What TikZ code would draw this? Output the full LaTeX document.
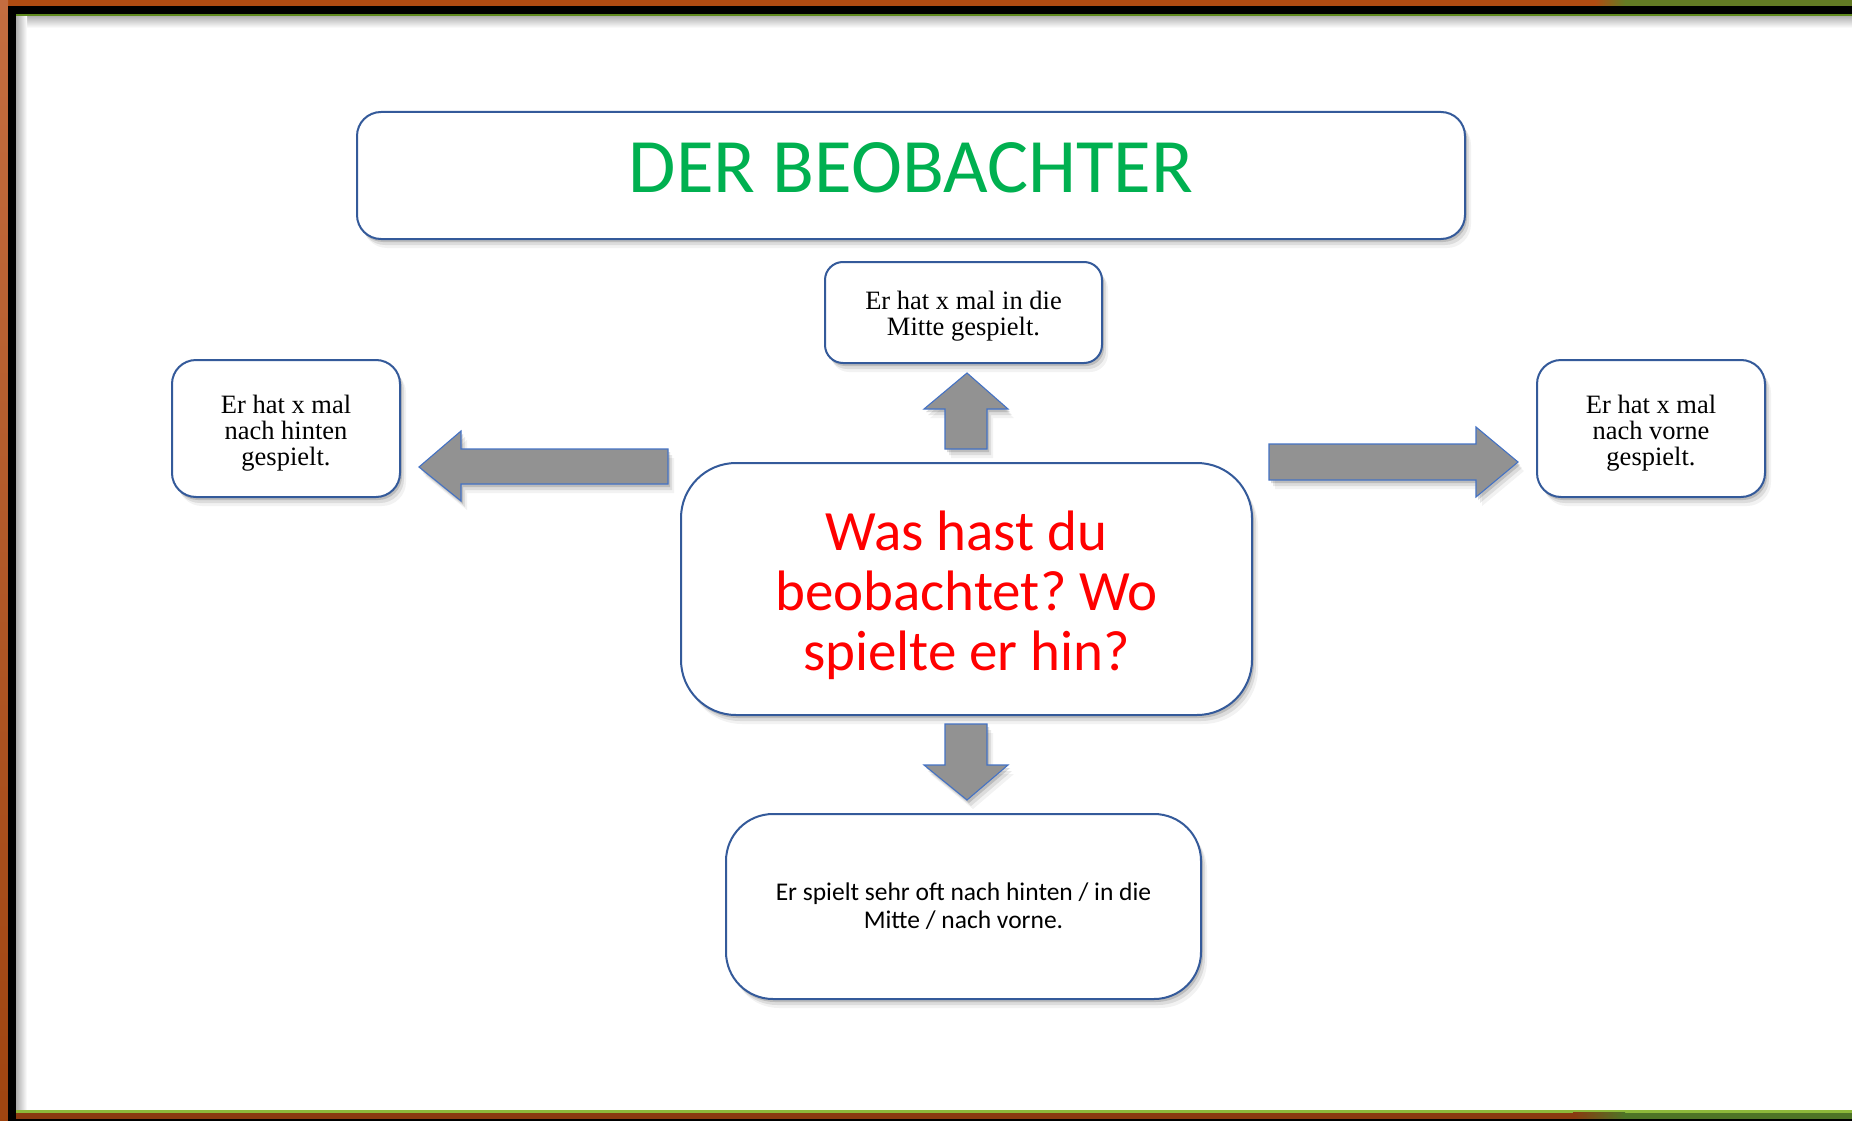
\documentclass[tikz,border=0pt]{standalone}
\usepackage{fontspec}
\setmainfont{Liberation Serif}
\newfontfamily\calibrifam{Carlito}
\usetikzlibrary{shadows}
\frenchspacing
\definecolor{boxblue}{HTML}{345A9A}
\definecolor{arrblue}{HTML}{4472C4}
\definecolor{arrgray}{HTML}{929292}
\definecolor{titlegreen}{HTML}{00B050}
\definecolor{framebrown}{HTML}{B04C12}
\definecolor{framelight}{HTML}{C46D40}
\definecolor{framegreen}{HTML}{637B24}
\definecolor{linegreen}{HTML}{5F8A1E}
\definecolor{lightgreen}{HTML}{8DB83A}
\definecolor{bottombrown}{HTML}{8A3A10}
\definecolor{bottomgreen}{HTML}{4E7426}
\newcommand\boxtextfont{\fontsize{26.5}{26}\selectfont}
\tikzset{
  softshadow/.style={
    drop shadow={shadow xshift=2pt,shadow yshift=-3pt,opacity=.14,fill=black},
    drop shadow={shadow xshift=4pt,shadow yshift=-6pt,opacity=.09,fill=black},
    drop shadow={shadow xshift=6pt,shadow yshift=-9pt,opacity=.05,fill=black}},
  rbox/.style={draw=boxblue, line width=2pt, fill=white, rounded corners=#1,
    softshadow, inner sep=0pt, align=center},
  arrowshape/.style={draw=arrblue, line width=1.1pt, fill=arrgray, softshadow, line join=miter},
}
\begin{document}
\begin{tikzpicture}[x=1pt,y=-1pt]
\useasboundingbox (0,0) rectangle (1852,1121);
% frame
\fill[framebrown] (0,0) rectangle (1852,1121);
\shade[top color=framelight, bottom color=framebrown!90!black] (0,0) rectangle (8,1121);
\shade[left color=framebrown, right color=framegreen] (1595,0) rectangle (1625,6);
\fill[framegreen] (1625,0) rectangle (1852,6);
\fill[black] (8,6) rectangle (1852,1121);
\fill[linegreen] (16,14.5) rectangle (1852,17);
\fill[white] (16,17) rectangle (1852,1110);
\shade[top color=black!28, bottom color=white] (16,17) rectangle (1852,28);
\shade[left color=black!32, right color=white] (16,17) rectangle (27,1110);
\fill[lightgreen] (16,1110) rectangle (1852,1112.5);
\fill[bottombrown] (16,1112.5) rectangle (1852,1118.5);
\shade[left color=bottombrown, right color=bottomgreen] (1573,1112.5) rectangle (1625,1118.5);
\fill[bottomgreen] (1625,1112.5) rectangle (1852,1118.5);

% boxes
\node[rbox=24pt, minimum width=1108pt, minimum height=127pt] (title) at (911,175.5) {};
\node[font=\calibrifam\fontsize{77}{80}\selectfont, text=titlegreen, inner sep=0pt] (titletext) at (911,168) {DER BEOBACHTER};

\node[rbox=18pt, minimum width=277pt, minimum height=101pt, font=\boxtextfont] (mitte) at (963.5,312.5) {\rule{0pt}{25.5pt}Er hat x mal in die\\Mitte gespielt.};
\node[rbox=24pt, minimum width=228pt, minimum height=137pt, font=\boxtextfont] (hinten) at (286,428.5) {\rule{0pt}{27.5pt}Er hat x mal\\nach hinten\\gespielt.};
\node[rbox=24pt, minimum width=228pt, minimum height=137pt, font=\boxtextfont] (vorne) at (1651,428.5) {\rule{0pt}{27.5pt}Er hat x mal\\nach vorne\\gespielt.};
\node[rbox=55pt, minimum width=571pt, minimum height=252pt, text=red, font=\calibrifam\fontsize{57}{60}\selectfont] (frage) at (966.5,589) {\rule{0pt}{52pt}Was hast du\\beobachtet? Wo\\spielte er hin?};
\node[rbox=47pt, minimum width=475pt, minimum height=185pt, font=\calibrifam\fontsize{25.5}{28}\selectfont] (fazit) at (963.5,906.5) {Er spielt sehr oft nach hinten / in die\\Mitte / nach vorne.};

% block arrows
\draw[arrowshape] (967,373) -- (1008,409) -- (987,409) -- (987,449) -- (945,449) -- (945,409) -- (924,409) -- cycle;
\draw[arrowshape] (945,724) -- (987,724) -- (987,765) -- (1008,765) -- (967,800) -- (924,765) -- (945,765) -- cycle;
\draw[arrowshape] (419,467) -- (461,431) -- (461,449) -- (668,449) -- (668,484) -- (461,484) -- (461,501) -- cycle;
\draw[arrowshape] (1269,444) -- (1476,444) -- (1476,427) -- (1518,462) -- (1476,497) -- (1476,480) -- (1269,480) -- cycle;
\end{tikzpicture}
\end{document}
